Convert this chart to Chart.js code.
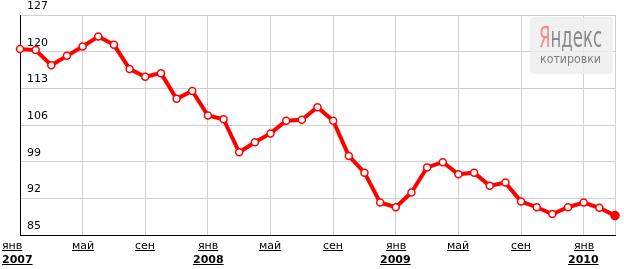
<!DOCTYPE html>
<html>
<head>
<meta charset="utf-8">
<script src="https://cdn.jsdelivr.net/npm/chart.js@4/dist/chart.umd.min.js"></script>
<style>
  body { margin: 0; background: #fff; }
  #chart { display: block; }
</style>
</head>
<body>
<canvas id="chart" width="624" height="269"></canvas>
<script>
// monthly values, jan 2007 .. mar 2010
var values = [
	120.5, 120.3, 117.4, 119.2, 121.0, 122.9, 121.3, 116.7, 115.2, 115.9, 111.0, 112.5,
	107.8, 107.1, 100.8, 102.7, 104.4, 106.8, 107.0, 109.4, 106.8, 100.1, 96.9, 91.2,
	90.3, 93.1, 97.9, 98.9, 96.6, 96.9, 94.4, 95.0, 91.4, 90.3, 89.0, 90.3,
	91.2, 90.2, 88.7
]
var tickIndex = [0, 4, 8, 12, 16, 20, 24, 28, 32, 36]
var tickMonth = ['янв', 'май', 'сен', 'янв', 'май', 'сен', 'янв', 'май', 'сен', 'янв']
var tickYear = ['2007', '', '', '2008', '', '', '2009', '', '', '2010']
var yMin = 85, yMax = 127, yStep = 7

var points = values.map(function (v, i) { return {x: i, y: v} })
var lastIndex = values.length - 1

// month / year captions under the axis, underlined like links
var monthLabels = {
	id: 'monthLabels',
	afterDraw: function (chart) {
		var ctx = chart.ctx
		var xs = chart.scales.x
		ctx.save()
		ctx.fillStyle = '#000'
		ctx.strokeStyle = '#000'
		ctx.lineWidth = 1
		ctx.textBaseline = 'alphabetic'
		tickIndex.forEach(function (t, i) {
			var px = xs.getPixelForValue(t)
			var rows = [[tickMonth[i], '11px "DejaVu Sans"', 249], [tickYear[i], 'bold 11px "DejaVu Sans"', 263]]
			rows.forEach(function (r) {
				if (!r[0]) return
				ctx.font = r[1]
				var w = ctx.measureText(r[0]).width
				var left = i === 0 ? 2 : Math.round(px - w / 2)
				ctx.fillText(r[0], left, r[2])
				ctx.beginPath()
				ctx.moveTo(left, r[2] + 1.5)
				ctx.lineTo(left + w, r[2] + 1.5)
				ctx.stroke()
			})
		})
		ctx.restore()
	},
}

// watermark in the top right corner
var logo = {
	id: 'logo',
	beforeDatasetsDraw: function (chart) {
		var ctx = chart.ctx
		ctx.save()
		ctx.fillStyle = 'rgba(236,236,236,0.8)'
		ctx.beginPath()
		ctx.roundRect(530, 17, 83, 57, 4)
		ctx.fill()

		ctx.font = '28px "Liberation Sans Narrow", "DejaVu Sans Condensed", sans-serif'
		var wYa = ctx.measureText('Я').width
		var wAll = ctx.measureText('Яндекс').width
		var k = 63 / wAll
		ctx.save()
		ctx.translate(539, 47)
		ctx.scale(k, 1)
		ctx.fillStyle = '#f48a84'
		ctx.fillText('Я', 0, 0)
		ctx.fillStyle = '#8a8a8a'
		ctx.fillText('ндекс', wYa, 0)
		ctx.restore()

		ctx.font = '12px "DejaVu Sans", sans-serif'
		ctx.fillStyle = '#808080'
		var w2 = ctx.measureText('котировки').width
		ctx.save()
		ctx.translate(540, 63)
		ctx.scale(61 / w2, 1)
		ctx.fillText('котировки', 0, 0)
		ctx.restore()
		ctx.restore()
	},
}

var chart = new Chart(document.getElementById('chart').getContext('2d'), {
	type: 'line',
	data: {
		datasets: [{
			data: points,
			borderColor: '#ff0000',
			borderWidth: 4,
			tension: 0,
			clip: false,
			pointRadius: function (c) { return c.dataIndex === lastIndex ? 4 : 3.5 },
			pointBorderWidth: 1.5,
			pointBorderColor: '#ff0000',
			pointBackgroundColor: function (c) { return c.dataIndex === lastIndex ? '#ff0000' : '#ffffff' },
		}],
	},
	options: {
		responsive: false,
		animation: false,
		devicePixelRatio: 1,
		layout: {padding: {top: 15, right: 9, left: 0, bottom: 0}},
		plugins: {legend: {display: false}, tooltip: {enabled: false}},
		scales: {
			x: {
				type: 'linear',
				min: 0,
				max: lastIndex,
				afterBuildTicks: function (s) {
					s.ticks = tickIndex.concat([lastIndex]).map(function (v) { return {value: v} })
				},
				afterFit: function (s) { s.height = 34 },
				ticks: {display: false},
				grid: {color: '#d0d0d0', lineWidth: 1, drawTicks: false},
				border: {color: '#000', width: 1},
			},
			y: {
				min: yMin,
				max: yMax,
				afterFit: function (s) { s.width = 20 },
				ticks: {
					stepSize: yStep,
					mirror: true,
					padding: 7,
					labelOffset: -9,
					color: '#000',
					font: {family: 'DejaVu Sans', size: 11},
				},
				grid: {color: '#d0d0d0', lineWidth: 1, drawTicks: false},
				border: {color: '#000', width: 1},
			},
		},
	},
	plugins: [logo, monthLabels],
})
</script>
</body>
</html>
